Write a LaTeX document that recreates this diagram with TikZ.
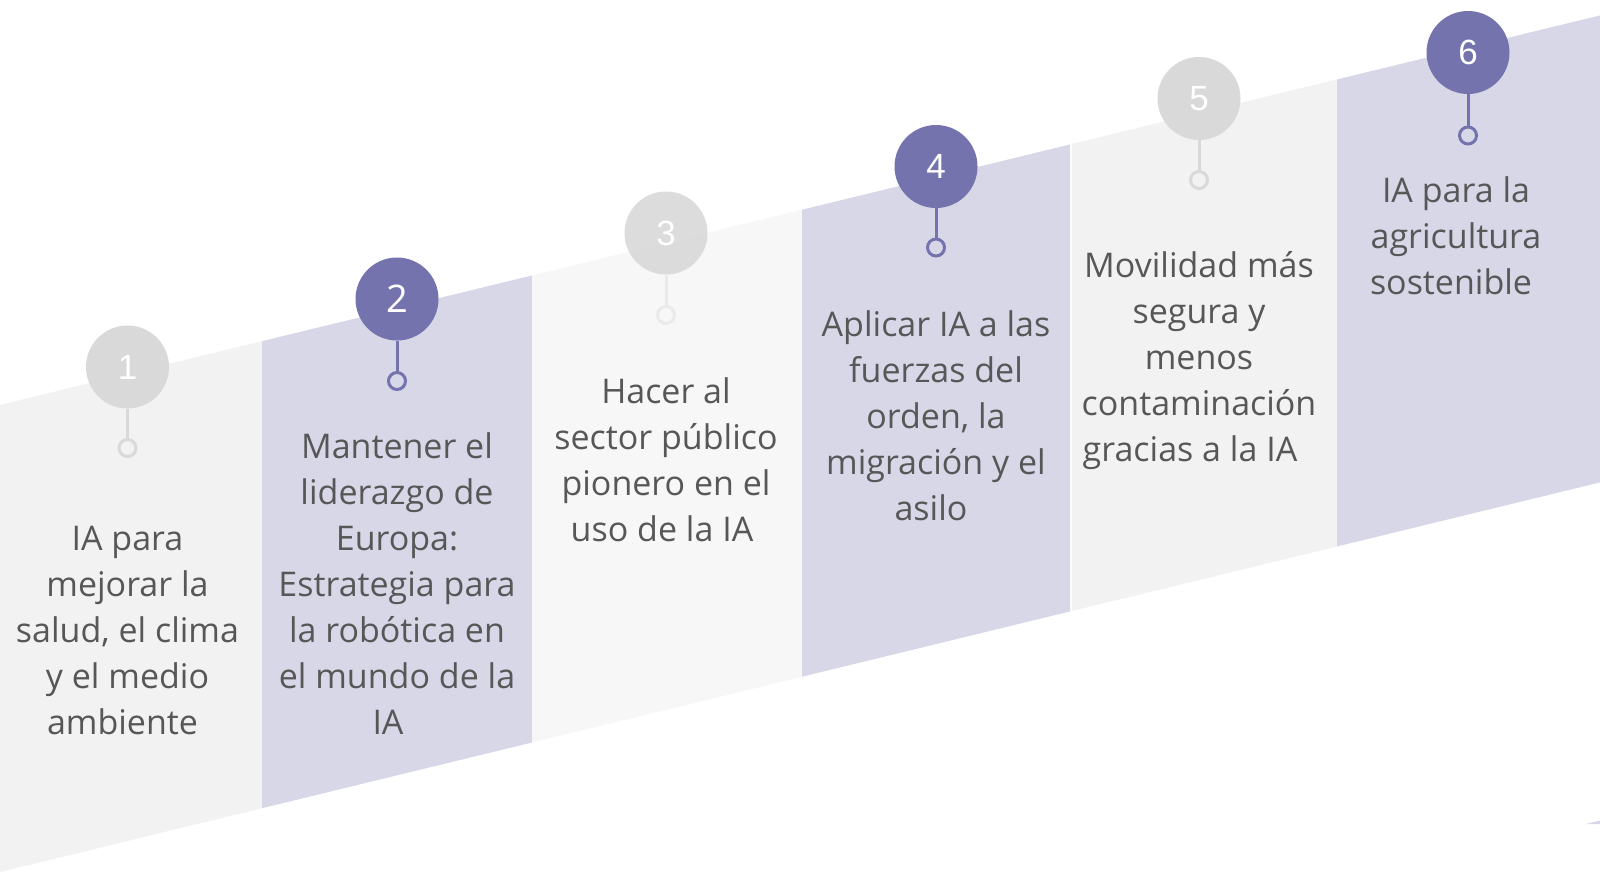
\documentclass[tikz,border=0pt]{standalone}
\usepackage{fontspec}
\setmainfont{Open Sans}
\newfontfamily\numfont{Liberation Sans}
\definecolor{lav}{HTML}{D8D7E8}
\definecolor{gband}{HTML}{F2F2F2}
\definecolor{gbandlight}{HTML}{F7F7F7}
\definecolor{purp}{HTML}{7473AD}
\definecolor{gcirc}{HTML}{D9D9D9}
\definecolor{gstemlight}{HTML}{EAEAEA}
\definecolor{txt}{HTML}{575757}
\newcommand\bandfill[3]{\fill[#3] (#1,{405-0.2435*#1}) -- (#2,{405-0.2435*#2}) -- (#2,{872-0.2435*#2}) -- (#1,{872-0.2435*#1}) -- cycle;}
\tikzset{
  bignum/.style={circle, minimum size=83pt, inner sep=0pt, text=white, font=\numfont\fontsize{35}{40}\selectfont},
  purpnum/.style={bignum, fill=purp},
  graynum/.style={bignum, fill=gcirc},
  ringdot/.style={circle, minimum size=17pt, inner sep=0pt, line width=3pt},
  stemline/.style={line width=3pt},
  bandtext/.style={align=center, text=txt, font=\fontsize{34}{46}\selectfont, inner sep=0pt}
}
\begin{document}
\begin{tikzpicture}[x=1pt,y=-1pt]
\useasboundingbox (0,0) rectangle (1600,873);
\fill[white] (0,0) rectangle (1600,873);
\clip (0,0) rectangle (1600,873);
% bands
\bandfill{-10}{262}{gband}
\bandfill{262}{532}{lav}
\bandfill{532}{802}{gbandlight}
\bandfill{802}{1070}{lav}
\bandfill{1072}{1337}{gband}
\bandfill{1337}{1610}{lav}
\fill[lav] (1586,824) -- (1600,820.5) -- (1600,824) -- cycle;
% circles, stems, rings
\node[graynum] (c1) at (127.5,367) {1};
\node[ringdot, draw=gcirc, fill=gband] (r1) at (127.5,448) {};
\draw[stemline, gcirc] (c1.south) -- (r1.north);

\node[purpnum, font=\fontsize{38}{40}\selectfont] (c2) at (397,299) {2};
\node[ringdot, draw=purp, fill=lav] (r2) at (397,381) {};
\draw[stemline, purp] (c2.south) -- (r2.north);

\node[graynum, fill opacity=0.9, text opacity=1] (c3) at (666,233) {3};
\node[ringdot, draw=gstemlight, fill=gbandlight] (r3) at (666,315) {};
\draw[stemline, gstemlight] (c3.south) -- (r3.north);

\node[purpnum] (c4) at (936,166.5) {4};
\node[ringdot, draw=purp, fill=lav] (r4) at (936,247.5) {};
\draw[stemline, purp] (c4.south) -- (r4.north);

\node[graynum] (c5) at (1199,98.5) {5};
\node[ringdot, draw=gcirc, fill=gband] (r5) at (1199,180) {};
\draw[stemline, gcirc] (c5.south) -- (r5.north);

\node[purpnum] (c6) at (1468,52.5) {6};
\node[ringdot, draw=purp, fill=lav] (r6) at (1468,135.5) {};
\draw[stemline, purp] (c6.south) -- (r6.north);

% texts
\node[bandtext] (t1) at (127.5,630) {IA para\\mejorar la\\salud, el clima\\y el medio\\ambiente\hspace*{10pt}};
\node[bandtext] (t2) at (397,584) {Mantener el\\liderazgo de\\Europa:\\Estrategia para\\la robótica en\\el mundo de la\\IA\hspace*{18pt}};
\node[bandtext] (t3) at (666,460) {Hacer al\\sector público\\pionero en el\\uso de la IA\hspace*{8pt}};
\node[bandtext] (t4) at (936,416) {Aplicar IA a las\\fuerzas del\\orden, la\\migración y el\\asilo\hspace*{10pt}};
\node[bandtext] (t5) at (1199,361) {Movilidad más\\segura y\\menos\\contaminación\\gracias a la IA\hspace*{18pt}};
\node[bandtext] (t6) at (1456,236) {IA para la\\agricultura\\sostenible\hspace*{10pt}};
\end{tikzpicture}
\end{document}
